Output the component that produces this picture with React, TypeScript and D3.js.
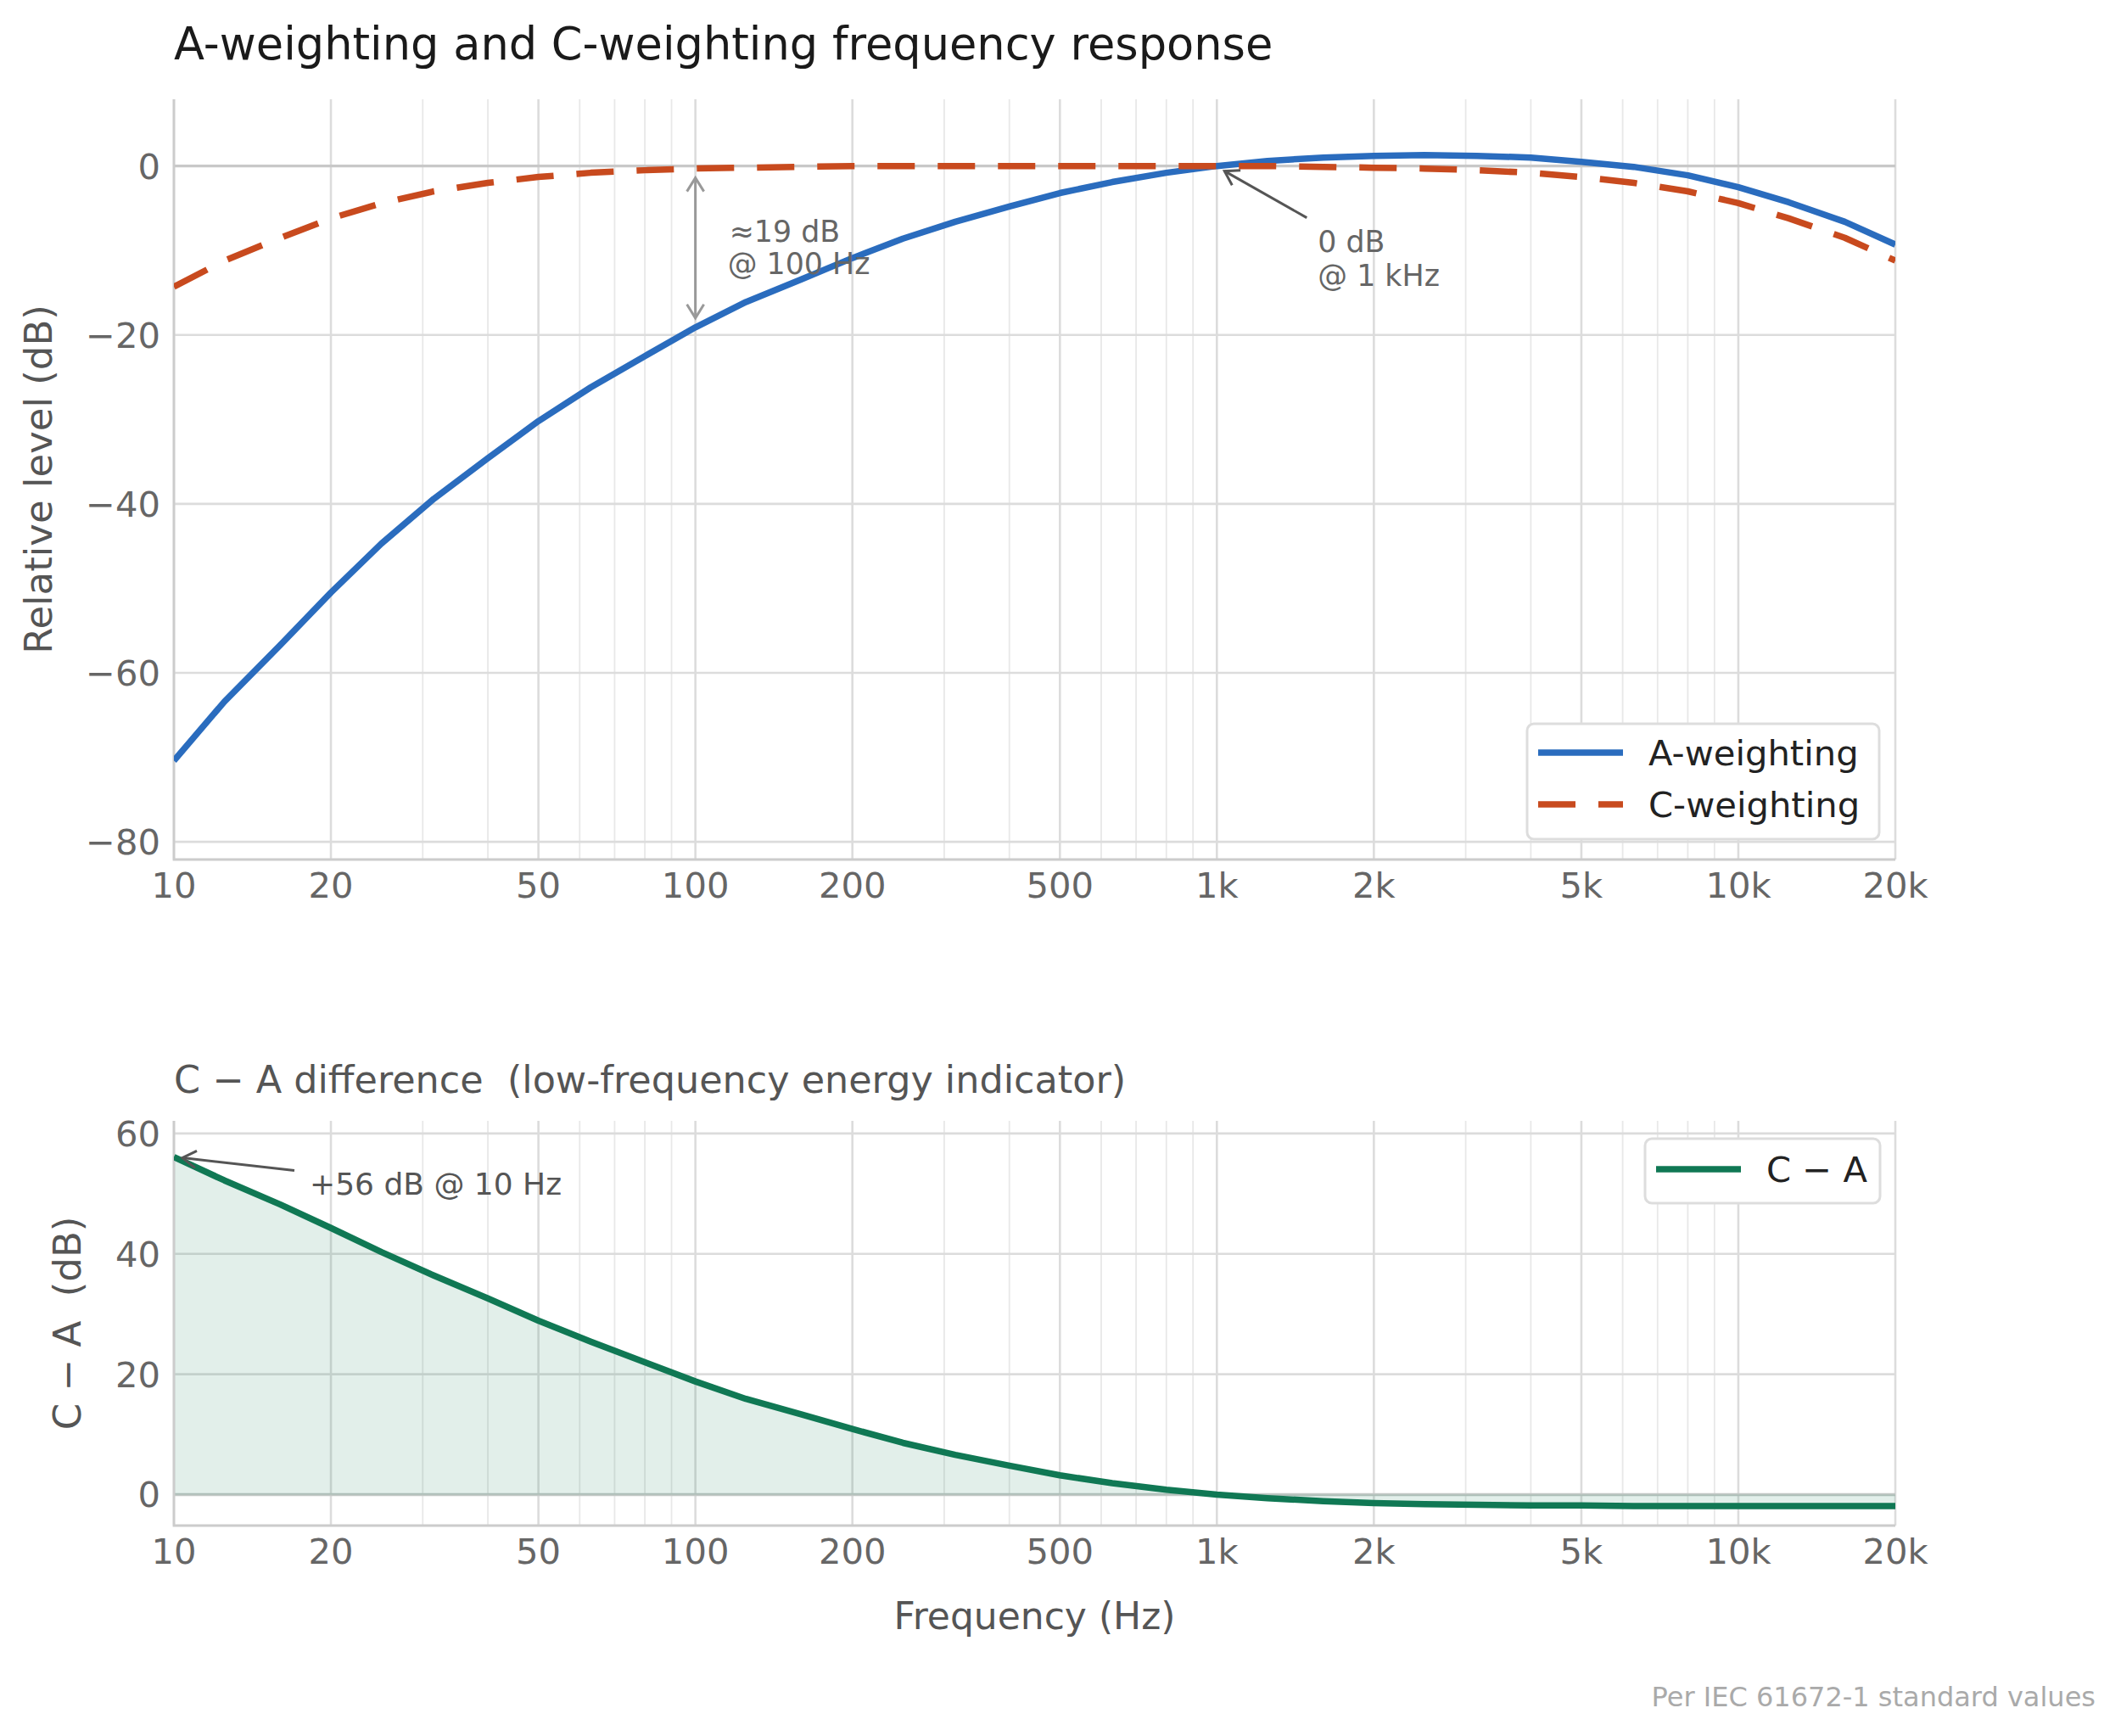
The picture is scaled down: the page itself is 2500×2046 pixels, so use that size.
import * as React from "react";
import * as d3 from "d3";
import { useEffect, useRef } from "react";

// IEC 61672-1 nominal weightings at 1/3-octave centre frequencies
const freqs = [
  10, 12.5, 16, 20, 25, 31.5, 40, 50, 63, 80, 100, 125, 160, 200, 250, 315, 400, 500, 630, 800,
  1000, 1250, 1600, 2000, 2500, 3150, 4000, 5000, 6300, 8000, 10000, 12500, 16000, 20000,
];
const aWeighting = [
  -70.4, -63.4, -56.7, -50.5, -44.7, -39.4, -34.6, -30.2, -26.2, -22.5, -19.1, -16.1, -13.4, -10.9,
  -8.6, -6.6, -4.8, -3.2, -1.9, -0.8, 0, 0.6, 1.0, 1.2, 1.3, 1.2, 1.0, 0.5, -0.1, -1.1, -2.5, -4.3,
  -6.6, -9.3,
];
const cWeighting = [
  -14.3, -11.2, -8.5, -6.2, -4.4, -3.0, -2.0, -1.3, -0.8, -0.5, -0.3, -0.2, -0.1, 0, 0, 0, 0, 0, 0,
  0, 0, 0, -0.1, -0.2, -0.3, -0.5, -0.8, -1.3, -2.0, -3.0, -4.4, -6.2, -8.5, -11.2,
];
const freqTicks = [10, 20, 50, 100, 200, 500, 1000, 2000, 5000, 10000, 20000];
const freqLabels = ["10", "20", "50", "100", "200", "500", "1k", "2k", "5k", "10k", "20k"];
const levelTicks = [0, -20, -40, -60, -80];
const diffTicks = [0, 20, 40, 60];

const W = 2500;
const H = 2046;
const FONT = "DejaVu Sans";
const BLUE = "#2a6cbe";
const ORANGE = "#c84a1e";
const GREEN = "#107854";
const LW = 7.5;

const App: React.FunctionComponent = () => {
  const svgRef = useRef<SVGSVGElement>(null);

  useEffect(() => {
    const svg = d3.select(svgRef.current);
    svg.selectAll("*").remove();
    svg.append("rect").attr("width", W).attr("height", H).attr("fill", "white");

    const diff = freqs.map((_, i) => +(cWeighting[i] - aWeighting[i]).toFixed(1));

    const x = d3.scaleLog().domain([10, 20000]).range([205, 2234]);
    const yTop = d3.scaleLinear().domain([-82.1, 7.9]).range([1013, 117]);
    const yBot = d3.scaleLinear().domain([-5.15, 62.1]).range([1798, 1321]);
    const minor = x.ticks().filter((t) => !freqTicks.includes(t));

    const defs = svg.append("defs");

    const arrowHead = (g, tip: [number, number], from: [number, number], color: string) => {
      const ang = Math.atan2(tip[1] - from[1], tip[0] - from[0]);
      const len = 16;
      const hw = 10;
      const bx = tip[0] - len * Math.cos(ang);
      const by = tip[1] - len * Math.sin(ang);
      const px = -Math.sin(ang) * hw;
      const py = Math.cos(ang) * hw;
      g.append("path")
        .attr("d", `M${bx + px},${by + py}L${tip[0]},${tip[1]}L${bx - px},${by - py}`)
        .attr("fill", "none")
        .attr("stroke", color)
        .attr("stroke-width", 3)
        .attr("stroke-linejoin", "miter");
    };

    const arrow = (g, from: [number, number], to: [number, number], color: string, both = false) => {
      g.append("line")
        .attr("x1", from[0])
        .attr("y1", from[1])
        .attr("x2", to[0])
        .attr("y2", to[1])
        .attr("stroke", color)
        .attr("stroke-width", 3);
      arrowHead(g, to, from, color);
      if (both) arrowHead(g, from, to, color);
    };

    const panel = (y, yTicks: number[], tickFmt: (v: number) => string, id: string) => {
      const g = svg.append("g");
      const [y0, y1] = y.range();
      defs
        .append("clipPath")
        .attr("id", id)
        .append("rect")
        .attr("x", 205)
        .attr("y", y1)
        .attr("width", 2234 - 205)
        .attr("height", y0 - y1);

      g.selectAll(".minor")
        .data(minor)
        .join("line")
        .attr("x1", (d) => x(d))
        .attr("x2", (d) => x(d))
        .attr("y1", y1)
        .attr("y2", y0)
        .attr("stroke", "#e8e8e8")
        .attr("stroke-width", 1.8);
      g.selectAll(".major")
        .data(freqTicks)
        .join("line")
        .attr("x1", (d) => x(d))
        .attr("x2", (d) => x(d))
        .attr("y1", y1)
        .attr("y2", y0)
        .attr("stroke", "#dcdcdc")
        .attr("stroke-width", 2.6);
      g.selectAll(".hgrid")
        .data(yTicks)
        .join("line")
        .attr("x1", 205)
        .attr("x2", 2234)
        .attr("y1", (d) => y(d))
        .attr("y2", (d) => y(d))
        .attr("stroke", "#dcdcdc")
        .attr("stroke-width", 2.6);

      // tick labels
      g.selectAll(".xl")
        .data(freqTicks)
        .join("text")
        .attr("x", (d) => x(d))
        .attr("y", y0 + 45)
        .attr("text-anchor", "middle")
        .attr("font-family", FONT)
        .attr("font-size", 41.7)
        .attr("fill", "#666")
        .text((_, i) => freqLabels[i]);
      g.selectAll(".yl")
        .data(yTicks)
        .join("text")
        .attr("x", 189)
        .attr("y", (d) => y(d) + 15)
        .attr("text-anchor", "end")
        .attr("font-family", FONT)
        .attr("font-size", 41.7)
        .attr("fill", "#666")
        .text((d) => tickFmt(d));
      return g;
    };

    const spines = (g, y) => {
      const [y0, y1] = y.range();
      g.append("path")
        .attr("d", `M205,${y1}V${y0}H2234`)
        .attr("fill", "none")
        .attr("stroke", "#cccccc")
        .attr("stroke-width", 2.8);
    };

    const fmt = (v: number) => (v < 0 ? "\u2212" + Math.abs(v) : String(v));

    // ---------- top panel ----------
    const gTop = panel(yTop, levelTicks, fmt, "clipTop");
    gTop.append("line")
      .attr("x1", 205)
      .attr("x2", 2234)
      .attr("y1", yTop(0))
      .attr("y2", yTop(0))
      .attr("stroke", "#c8c8c8")
      .attr("stroke-width", 3.2);
    spines(gTop, yTop);

    const lineTop = d3
      .line<number>()
      .x((_, i) => x(freqs[i]))
      .y((d) => yTop(d));

    const curves = gTop.append("g").attr("clip-path", "url(#clipTop)");
    curves
      .append("path")
      .attr("d", lineTop(aWeighting))
      .attr("fill", "none")
      .attr("stroke", BLUE)
      .attr("stroke-width", LW)
      .attr("stroke-linejoin", "round");
    curves
      .append("path")
      .attr("d", lineTop(cWeighting))
      .attr("fill", "none")
      .attr("stroke", ORANGE)
      .attr("stroke-width", LW)
      .attr("stroke-dasharray", "44 27")
      .attr("stroke-linejoin", "round");

    // ≈19 dB gap at 100 Hz
    const i100 = freqs.indexOf(100);
    const ax = x(100);
    arrow(gTop, [ax, yTop(cWeighting[i100]) + 11], [ax, yTop(aWeighting[i100]) - 11], "#999999", true);
    const t1 = gTop
      .append("text")
      .attr("font-family", FONT)
      .attr("font-size", 34.8)
      .attr("fill", "#666");
    t1.append("tspan").attr("x", ax + 40).attr("y", 285).text("\u224819 dB");
    t1.append("tspan").attr("x", ax + 38).attr("y", 323).text("@ 100 Hz");

    // 0 dB at 1 kHz
    const kx = x(1000);
    const ky = yTop(0);
    arrow(gTop, [kx + 106, ky + 61], [kx + 9, ky + 6], "#555555");
    const t2 = gTop
      .append("text")
      .attr("font-family", FONT)
      .attr("font-size", 34.8)
      .attr("fill", "#666");
    t2.append("tspan").attr("x", kx + 119).attr("y", ky + 101).text("0 dB");
    t2.append("tspan").attr("x", kx + 119).attr("y", ky + 141).text("@ 1 kHz");

    // legend top
    const lg = gTop.append("g");
    lg.append("rect")
      .attr("x", 1800)
      .attr("y", 853)
      .attr("width", 415)
      .attr("height", 136)
      .attr("rx", 8)
      .attr("fill", "white")
      .attr("stroke", "#dddddd")
      .attr("stroke-width", 3);
    const legendItems = [
      { label: "A-weighting", color: BLUE, dash: null },
      { label: "C-weighting", color: ORANGE, dash: "44 27" },
    ];
    legendItems.forEach((it, i) => {
      const ly = 887 + i * 61;
      lg.append("line")
        .attr("x1", 1813)
        .attr("x2", 1913)
        .attr("y1", ly)
        .attr("y2", ly)
        .attr("stroke", it.color)
        .attr("stroke-width", LW)
        .attr("stroke-dasharray", it.dash);
      lg.append("text")
        .attr("x", 1943)
        .attr("y", ly + 15)
        .attr("font-family", FONT)
        .attr("font-size", 41.7)
        .attr("fill", "#222")
        .text(it.label);
    });

    // titles and labels
    svg.append("text")
      .attr("x", 205)
      .attr("y", 70)
      .attr("font-family", FONT)
      .attr("font-size", 52.6)
      .attr("fill", "#1a1a1a")
      .text("A-weighting and C-weighting frequency response");
    svg.append("text")
      .attr("transform", `translate(61,${(117 + 1013) / 2}) rotate(-90)`)
      .attr("text-anchor", "middle")
      .attr("font-family", FONT)
      .attr("font-size", 45)
      .attr("fill", "#555")
      .text("Relative level (dB)");

    // ---------- bottom panel ----------
    const gBot = panel(yBot, diffTicks, fmt, "clipBot");
    gBot.append("line")
      .attr("x1", 205)
      .attr("x2", 2234)
      .attr("y1", yBot(0))
      .attr("y2", yBot(0))
      .attr("stroke", "#c2c8c5")
      .attr("stroke-width", 3.4);

    const area = d3
      .area<number>()
      .x((_, i) => x(freqs[i]))
      .y0(yBot(0))
      .y1((d) => yBot(d));
    gBot.append("path")
      .attr("d", area(diff))
      .attr("fill", GREEN)
      .attr("fill-opacity", 0.12);
    spines(gBot, yBot);

    const lineBot = d3
      .line<number>()
      .x((_, i) => x(freqs[i]))
      .y((d) => yBot(d));
    gBot.append("g")
      .attr("clip-path", "url(#clipBot)")
      .append("path")
      .attr("d", lineBot(diff))
      .attr("fill", "none")
      .attr("stroke", GREEN)
      .attr("stroke-width", LW)
      .attr("stroke-linejoin", "round");

    const dx = x(10);
    const dy = yBot(diff[0]);
    arrow(gBot, [dx + 142, dy + 16], [dx + 10, dy + 1], "#555555");
    gBot.append("text")
      .attr("x", dx + 160)
      .attr("y", dy + 44)
      .attr("font-family", FONT)
      .attr("font-size", 36)
      .attr("fill", "#555")
      .text(`+${Math.round(diff[0])} dB @ 10 Hz`);

    // legend bottom
    const lb = gBot.append("g");
    lb.append("rect")
      .attr("x", 1939)
      .attr("y", 1342)
      .attr("width", 277)
      .attr("height", 76)
      .attr("rx", 8)
      .attr("fill", "white")
      .attr("stroke", "#dddddd")
      .attr("stroke-width", 3);
    lb.append("line")
      .attr("x1", 1952)
      .attr("x2", 2052)
      .attr("y1", 1378)
      .attr("y2", 1378)
      .attr("stroke", GREEN)
      .attr("stroke-width", LW);
    lb.append("text")
      .attr("x", 2082)
      .attr("y", 1393)
      .attr("font-family", FONT)
      .attr("font-size", 41.7)
      .attr("fill", "#222")
      .text("C \u2212 A");

    svg.append("text")
      .attr("x", 205)
      .attr("y", 1288)
      .attr("font-family", FONT)
      .attr("font-size", 44.5)
      .attr("fill", "#555")
      .style("white-space", "pre")
      .text("C \u2212 A difference  (low-frequency energy indicator)");
    svg.append("text")
      .attr("transform", `translate(95,${(1321 + 1798) / 2}) rotate(-90)`)
      .attr("text-anchor", "middle")
      .attr("font-family", FONT)
      .attr("font-size", 45)
      .attr("fill", "#555")
      .style("white-space", "pre")
      .text("C \u2212 A  (dB)");
    svg.append("text")
      .attr("x", (205 + 2234) / 2)
      .attr("y", 1920)
      .attr("text-anchor", "middle")
      .attr("font-family", FONT)
      .attr("font-size", 44)
      .attr("fill", "#555")
      .text("Frequency (Hz)");

    svg.append("text")
      .attr("x", 2470)
      .attr("y", 2011)
      .attr("text-anchor", "end")
      .attr("font-family", FONT)
      .attr("font-size", 32)
      .attr("fill", "#aaaaaa")
      .text("Per IEC 61672-1 standard values");
  }, []);

  return (
    <div style={{ position: "absolute", left: 0, top: 0 }}>
      <svg ref={svgRef} width={W} height={H} style={{ display: "block" }}></svg>
    </div>
  );
};

export default App;
